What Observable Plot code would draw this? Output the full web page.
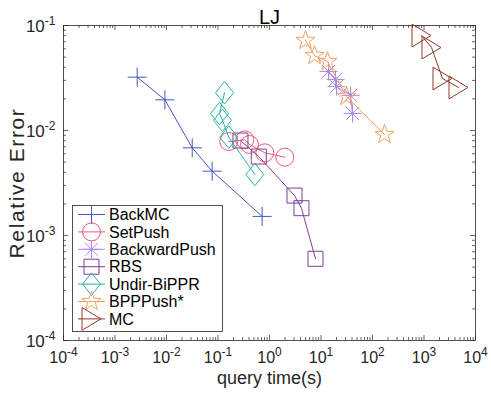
<!DOCTYPE html>
<html><head><meta charset="utf-8">
<script src="https://cdn.jsdelivr.net/npm/d3@7"></script>
<script src="https://cdn.jsdelivr.net/npm/@observablehq/plot@0.6"></script>
<style>body{margin:0;background:#fff;}</style>
</head><body><div id="chart"></div>
<script>
const seriesNames = ["BackMC","SetPush","BackwardPush","RBS","Undir-BiPPR","BPPPush*","MC"];
const seriesColors = ["#4457c4","#f05a78","#a98af2","#7d3f98","#2bb3a0","#f5a05f","#8e3a28"];

const backMC_x = [0.0027, 0.0093, 0.0316, 0.077, 0.72];
const backMC_y = [0.0322, 0.0196, 0.00684, 0.0041, 0.00152];
const setPush_x = [0.162, 0.331, 0.409, 0.811, 1.98];
const setPush_y = [0.00785, 0.00815, 0.00736, 0.00613, 0.00557];
const backwardPush_x = [14.0, 19.1, 20.0, 37.4, 40.9];
const backwardPush_y = [0.0365, 0.0306, 0.0262, 0.0216, 0.0145];
const rbs_x = [0.273, 0.62, 3.06, 4.18, 7.82];
const rbs_y = [0.00803, 0.00565, 0.0024, 0.00182, 0.0006];
const undir_x = [0.134, 0.107, 0.122, 0.162, 0.519];
const undir_y = [0.0229, 0.0145, 0.0125, 0.00864, 0.00381];
const bppPush_x = [5.0, 7.48, 13.4, 31.3, 171];
const bppPush_y = [0.072, 0.0518, 0.0454, 0.0211, 0.00916];
const mc_x = [894, 1399, 2287, 4677];
const mc_y = [0.0803, 0.0617, 0.0313, 0.0257];

const xTickExps = [-4,-3,-2,-1,0,1,2,3,4];
const yTickExps = [-4,-3,-2,-1];

const seriesX = [backMC_x, setPush_x, backwardPush_x, rbs_x, undir_x, bppPush_x, mc_x];
const seriesY = [backMC_y, setPush_y, backwardPush_y, rbs_y, undir_y, bppPush_y, mc_y];

function sym(fn){ return {draw(ctx, size){ const r = Math.sqrt(size/Math.PI); fn(ctx, r); }}; }
const symbols = [
  sym((c,r)=>{c.moveTo(-r,0);c.lineTo(r,0);c.moveTo(0,-r);c.lineTo(0,r);}),
  sym((c,r)=>{c.moveTo(r,0);c.arc(0,0,r,0,2*Math.PI);c.closePath();}),
  sym((c,r)=>{const d=r*0.72;c.moveTo(-r,0);c.lineTo(r,0);c.moveTo(0,-r);c.lineTo(0,r);c.moveTo(-d,-d);c.lineTo(d,d);c.moveTo(-d,d);c.lineTo(d,-d);}),
  sym((c,r)=>{c.rect(-r,-r,2*r,2*r);}),
  sym((c,r)=>{const h=r*1.25;c.moveTo(0,-h);c.lineTo(r,0);c.lineTo(0,h);c.lineTo(-r,0);c.closePath();}),
  sym((c,r)=>{const ri=r*0.4;for(let k=0;k<10;k++){const a=-Math.PI/2+k*Math.PI/5;const rr=k%2?ri:r;const px=rr*Math.cos(a),py=rr*Math.sin(a);k?c.lineTo(px,py):c.moveTo(px,py);}c.closePath();}),
  sym((c,r)=>{const h=r*1.2;c.moveTo(-r,-h);c.lineTo(r,0);c.lineTo(-r,h);c.closePath();})
];
const symR = [9.5, 9, 9, 7.5, 9, 10, 9.5];

const series = seriesNames.map((n,i)=>seriesX[i].map((x,j)=>({series:n, x, y: seriesY[i][j]})));

const W = 491-63-16, H = 393-25-53;
const xMajor = xTickExps.map(e=>Math.pow(10,e));
const yMajor = yTickExps.map(e=>Math.pow(10,e));
const xMinor = [], yMinor = [];
for (let e=-4;e<4;e++) for (let m=2;m<10;m++) xMinor.push(m*Math.pow(10,e));
for (let e=-4;e<-1;e++) for (let m=2;m<10;m++) yMinor.push(m*Math.pow(10,e));

const axisColor = "#262626";
const marks = [
  Plot.frame({stroke: axisColor, strokeWidth: 0.8}),
  Plot.tickX(xMajor, {x: d=>d, insetTop: H-5, stroke: axisColor, strokeWidth: 0.7}),
  Plot.tickX(xMajor, {x: d=>d, insetBottom: H-5, stroke: axisColor, strokeWidth: 0.7}),
  Plot.tickX(xMinor, {x: d=>d, insetTop: H-3, stroke: axisColor, strokeWidth: 0.7}),
  Plot.tickX(xMinor, {x: d=>d, insetBottom: H-3, stroke: axisColor, strokeWidth: 0.7}),
  Plot.tickY(yMajor, {y: d=>d, insetRight: W-5, stroke: axisColor, strokeWidth: 0.7}),
  Plot.tickY(yMajor, {y: d=>d, insetLeft: W-5, stroke: axisColor, strokeWidth: 0.7}),
  Plot.tickY(yMinor, {y: d=>d, insetRight: W-3, stroke: axisColor, strokeWidth: 0.7}),
  Plot.tickY(yMinor, {y: d=>d, insetLeft: W-3, stroke: axisColor, strokeWidth: 0.7}),
  Plot.axisX(xMajor, {tickSize: 0, tickPadding: 11, tickFormat: d=>String(Math.round(Math.log10(d))), fontSize: 16, label: null}),
  Plot.axisY(yMajor, {tickSize: 0, tickPadding: 8, tickFormat: d=>String(Math.round(Math.log10(d))), fontSize: 17, label: null, dy: 1}),
  Plot.text(["query time(s)"], {frameAnchor: "bottom", dy: 43, fontSize: 18, textAnchor: "middle", fill: axisColor}),
  Plot.text(["Relative Error"], {frameAnchor: "left", dx: -46, rotate: -90, fontSize: 21, textAnchor: "middle", fill: axisColor}),
  Plot.text(["LJ"], {frameAnchor: "top", dy: -16, fontSize: 20, textAnchor: "middle", fill: "#000"})
];
series.forEach((d,i)=>{
  marks.push(Plot.line(d, {x: v=>v.x, y: v=>v.y, stroke: seriesColors[i], strokeWidth: 1}));
  marks.push(Plot.dot(d, {x: v=>v.x, y: v=>v.y, r: symR[i], symbol: symbols[i], stroke: seriesColors[i], fill: "none", strokeWidth: 1}));
});

const svg = Plot.plot({
  width: 491, height: 393,
  marginLeft: 63, marginRight: 16, marginTop: 25, marginBottom: 53,
  style: {fontFamily: "'Liberation Sans', Arial, sans-serif", fontSize: "16px", background: "#fff", color: axisColor},
  x: {type: "log", domain: [1e-4, 1e4], axis: null, label: null},
  y: {type: "log", domain: [1e-4, 1e-1], axis: null, label: null},
  marks
});

// superscript tick labels
d3.select(svg).selectAll('g[aria-label="x-axis tick label"] text, g[aria-label="y-axis tick label"] text').each(function(){
  const t = d3.select(this);
  const e = t.text();
  t.text(null);
  t.append("tspan").text("10");
  t.append("tspan").attr("dy", -7).attr("font-size", 12).text(e);
});
d3.select(svg).selectAll("text").filter(function(){ return this.textContent === "Relative Error"; }).style("letter-spacing", "1.6px");

// legend
const lg = d3.select(svg).append("g").attr("font-family","'Liberation Sans', Arial, sans-serif").attr("font-size",16).attr("text-anchor","start");
lg.append("rect").attr("x",72.5).attr("y",205.5).attr("width",150).attr("height",126).attr("fill","#fff").attr("stroke",axisColor).attr("stroke-width",0.8);
seriesNames.forEach((n,i)=>{
  const cy = 214.5 + i*17.4;
  lg.append("line").attr("x1",78).attr("x2",105).attr("y1",cy).attr("y2",cy).attr("stroke",seriesColors[i]).attr("stroke-width",1);
  const p = d3.path();
  symbols[i].draw(p, Math.PI*symR[i]*symR[i]);
  lg.append("path").attr("d", p.toString()).attr("transform",`translate(91.5,${cy})`).attr("fill","none").attr("stroke",seriesColors[i]).attr("stroke-width",1);
  lg.append("text").attr("x",109).attr("y",cy).attr("dy","0.35em").attr("text-anchor","start").attr("fill","#000").text(n);
});

document.getElementById("chart").appendChild(svg);
</script></body></html>
